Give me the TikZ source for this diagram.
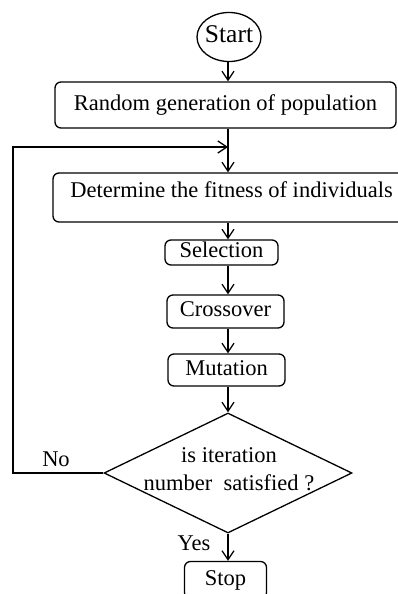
\documentclass[tikz,border=0pt]{standalone}
\usepackage{fontspec}
\setmainfont{Liberation Serif}
\usetikzlibrary{arrows.meta,shapes.geometric}
\begin{document}
\begin{tikzpicture}[x=1pt,y=-1pt,
  every node/.style={font=\fontsize{22.5}{27.5}\selectfont, inner sep=0pt},
  box/.style={draw, line width=1.3pt, rounded corners=6pt, text height=15.75pt, text depth=5.6pt},
  arr/.style={line width=1.3pt, -{Straight Barb[length=9pt,width=12pt,line width=1.3pt]}}]
\useasboundingbox (0,0) rectangle (398,594);
\clip (0,0) rectangle (398,594);
\coordinate (spine) at (228,0);
\node[draw, ellipse, line width=1.3pt, minimum width=64pt, minimum height=49pt, inner sep=-6pt,
  font=\fontsize{25.5}{30}\selectfont, text height=17.5pt, text depth=6.2pt] (start) at (229,37) {Start};
\node[box, minimum width=341pt, minimum height=46pt] (gen) at (225.5,105) {Random generation of population};
\node[box, minimum width=357pt, minimum height=49pt, text depth=16pt] (fit) at (231.5,197.5) {Determine the fitness of individuals};
\node[box, minimum width=113pt, minimum height=25pt] (sel) at (221.5,252.5) {Selection};
\node[box, minimum width=117pt, minimum height=33pt] (cross) at (225.5,311.5) {Crossover};
\node[box, minimum width=117pt, minimum height=32pt] (mut) at (226.5,370) {Mutation};
\node[draw, diamond, line width=1.3pt, minimum width=248pt, minimum height=120pt] (dec) at (228,473) {};
\node[align=center] (q) at (229,469) {is iteration\\number\hspace{0.5em}satisfied ?};
\node[box, minimum width=82pt, minimum height=37pt] (stop) at (225.5,580) {Stop};
\node[anchor=base] (no) at (56,466) {No};
\node[anchor=base] (yes) at (194,550) {Yes};
\coordinate (join) at (228,147);
\coordinate (corner) at (13,147);
\draw[arr] (spine |- start.south) -- (spine |- gen.north);
\draw[arr] (spine |- gen.south) -- (spine |- fit.north);
\draw[arr] (dec.west) -| (corner) -- (join);
\draw[arr] (spine |- fit.south) -- (spine |- sel.north);
\draw[arr] (spine |- sel.south) -- (spine |- cross.north);
\draw[arr] (spine |- cross.south) -- (spine |- mut.north);
\draw[arr] (spine |- mut.south) -- (dec.north);
\draw[arr] (dec.south) -- (spine |- stop.north);
\end{tikzpicture}
\end{document}
